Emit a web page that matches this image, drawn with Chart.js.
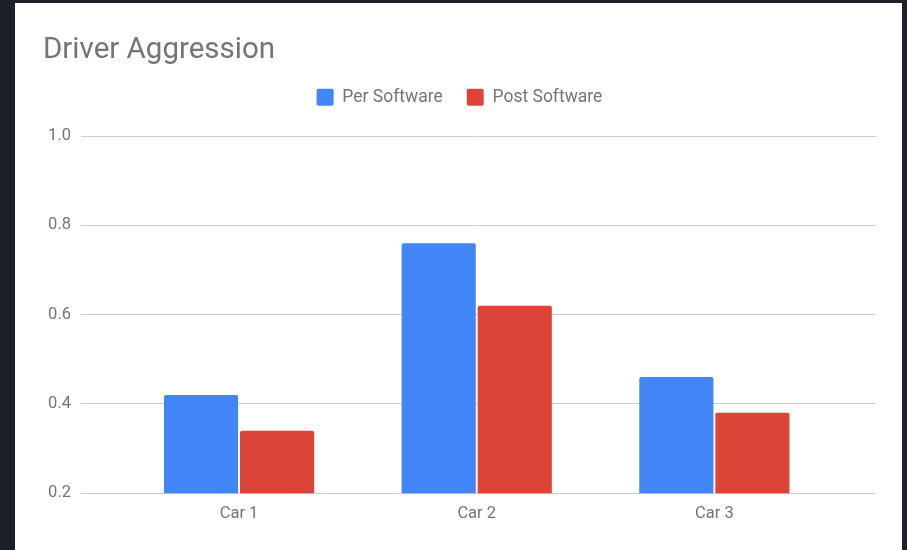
<!DOCTYPE html>
<html>
<head>
<meta charset="utf-8">
<title>Driver Aggression</title>
<script src="https://cdn.jsdelivr.net/npm/chart.js@4"></script>
<style>
    html, body {
        margin: 0;
        padding: 0;
        background: #1c2029;
        overflow: hidden;
    }
    #card {
        position: absolute;
        left: 15px;
        top: 3px;
        width: 887px;
        height: 547px;
        background: #ffffff;
    }
</style>
</head>
<body>
<div id="card">
    <canvas id="grafico" width="887" height="547"></canvas>
</div>
<script>
const categories = ['Car 1', 'Car 2', 'Car 3'];
const perSoftware = [0.42, 0.76, 0.46];
const postSoftware = [0.34, 0.62, 0.38];
const yTicks = [0.2, 0.4, 0.6, 0.8, 1.0];

const textColor = '#757575';

// extra room under the legend
const legendGap = {
    id: 'legendGap',
    afterInit(chart) {
        const fit = chart.legend.fit;
        chart.legend.fit = function () {
            fit.call(this);
            this.height += 20;
        };
    }
};

const ctx = document.getElementById('grafico').getContext('2d');

new Chart(ctx, {
    type: 'bar',
    data: {
        datasets: [
            {
                label: 'Per Software',
                data: perSoftware.map((v, i) => ({ x: i, y: v })),
                backgroundColor: '#4285f4',
                borderRadius: 2
            },
            {
                label: 'Post Software',
                data: postSoftware.map((v, i) => ({ x: i, y: v })),
                backgroundColor: '#db4437',
                borderRadius: 2
            }
        ]
    },
    options: {
        responsive: false,
        animation: false,
        barPercentage: 0.975,
        categoryPercentage: 0.64,
        layout: {
            padding: { left: 28, right: 26, top: 0, bottom: 15 }
        },
        plugins: {
            title: {
                display: true,
                text: 'Driver Aggression',
                align: 'start',
                color: textColor,
                font: { family: 'Roboto', size: 29.5, weight: 'normal', lineHeight: 1 },
                padding: { top: 33, bottom: -1 }
            },
            legend: {
                display: true,
                labels: {
                    color: textColor,
                    font: { family: 'Roboto', size: 17.5 },
                    boxWidth: 17,
                    boxHeight: 17,
                    useBorderRadius: true,
                    borderRadius: 2,
                    padding: 24
                }
            },
            tooltip: { enabled: false }
        },
        scales: {
            x: {
                type: 'linear',
                offset: false,
                min: -0.665,
                max: 2.68,
                afterBuildTicks: scale => {
                    scale.ticks = categories.map((c, i) => ({ value: i }));
                },
                grid: { display: false, drawTicks: false },
                border: { display: false },
                ticks: {
                    color: textColor,
                    font: { family: 'Roboto', size: 16.5 },
                    padding: 11,
                    callback: value => categories[value]
                }
            },
            y: {
                min: yTicks[0],
                max: yTicks[yTicks.length - 1],
                afterBuildTicks: scale => {
                    scale.ticks = yTicks.map(v => ({ value: v }));
                },
                afterFit: scale => {
                    scale.width = 38;
                },
                grid: { color: '#cccccc', drawTicks: false },
                border: { display: false },
                ticks: {
                    color: textColor,
                    font: { family: 'Roboto', size: 16.5 },
                    padding: 10,
                    callback: value => value.toFixed(1)
                }
            }
        }
    },
    plugins: [legendGap]
});
</script>
</body>
</html>
